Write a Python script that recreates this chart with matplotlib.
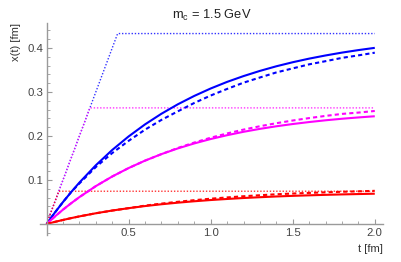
import matplotlib
matplotlib.use('Agg')
import matplotlib.pyplot as plt
from matplotlib.ticker import MultipleLocator, FixedLocator

plt.rcParams['font.family'] = ['Liberation Sans', 'DejaVu Sans']
plt.rcParams['mathtext.fontset'] = 'custom'
plt.rcParams['mathtext.rm'] = 'Liberation Sans'

# time grid [fm]
t = [0, 0.05, 0.1, 0.15, 0.2, 0.3, 0.4, 0.5, 0.6, 0.7, 0.8, 0.9, 1.0,
     1.1, 1.2, 1.3, 1.4, 1.5, 1.6, 1.7, 1.8, 1.9, 2.0]

# blue
blue_solid = [0, 0.0257, 0.0499, 0.0727, 0.0942, 0.1335, 0.1683, 0.1991, 0.2265,
              0.2507, 0.2722, 0.2912, 0.3081, 0.3231, 0.3363, 0.3481, 0.3586,
              0.3678, 0.3760, 0.3832, 0.3897, 0.3954, 0.4005]
blue_dashed = [0, 0.0257, 0.0499, 0.0726, 0.0922, 0.1295, 0.1613, 0.1891, 0.2145,
               0.2367, 0.2562, 0.2752, 0.2921, 0.3071, 0.3213, 0.3331, 0.3446,
               0.3538, 0.3630, 0.3702, 0.3777, 0.3834, 0.3895]
blue_dot_t = [0, 0.433, 2.0]
blue_dot_x = [0, 0.433, 0.433]

# magenta
mag_solid = [0, 0.0168, 0.0326, 0.0473, 0.0611, 0.0861, 0.1080, 0.1272, 0.1441,
             0.1589, 0.1719, 0.1832, 0.1932, 0.2019, 0.2096, 0.2163, 0.2222,
             0.2273, 0.2318, 0.2358, 0.2393, 0.2423, 0.2450]
mag_dashed = [0, 0.0168, 0.0326, 0.0473, 0.0611, 0.0861, 0.1080, 0.1272, 0.1441,
              0.1589, 0.1729, 0.1852, 0.1962, 0.2059, 0.2146, 0.2223, 0.2292,
              0.2353, 0.2408, 0.2458, 0.2503, 0.2533, 0.2570]
mag_dot_t = [0, 0.264, 2.0]
mag_dot_x = [0, 0.264, 0.264]

# red
red_solid = [0, 0.0048, 0.0092, 0.0134, 0.0173, 0.0244, 0.0306, 0.0360, 0.0408,
             0.0449, 0.0485, 0.0517, 0.0545, 0.0569, 0.0591, 0.0609, 0.0626,
             0.0640, 0.0652, 0.0663, 0.0673, 0.0681, 0.0689]
red_dashed = [0, 0.0048, 0.0092, 0.0134, 0.0173, 0.0244, 0.0306, 0.0360, 0.0418,
              0.0464, 0.0505, 0.0542, 0.0575, 0.0604, 0.0631, 0.0654, 0.0676,
              0.0693, 0.0707, 0.0720, 0.0733, 0.0743, 0.0754]
red_dot_t = [0, 0.0745, 2.0]
red_dot_x = [0, 0.0745, 0.0745]

fig = plt.figure(figsize=(4.02, 2.62), dpi=100)
ax = fig.add_axes([40/402, 1-235/262, 343/402, 212/262])

dot = (0, (1.0, 1.3))
dash = (0, (2.0, 1.5))
for c, ts, xs in [('blue', blue_dot_t, blue_dot_x), ('magenta', mag_dot_t, mag_dot_x),
                  ('red', red_dot_t, red_dot_x)]:
    ax.plot(ts, xs, color=c, lw=1.0, alpha=0.8, linestyle=dot, dash_capstyle='butt')
for c, s, d in [('blue', blue_solid, blue_dashed), ('magenta', mag_solid, mag_dashed),
                ('red', red_solid, red_dashed)]:
    ax.plot(t, s, color=c, lw=1.5, solid_capstyle='butt')
    ax.plot(t, d, color=c, lw=1.5, linestyle=dash, dash_capstyle='butt')

ax.set_xlim(-0.04, 2.05)
ax.set_ylim(-0.025, 0.457)

for side in ['top', 'right']:
    ax.spines[side].set_visible(False)
ax.spines['left'].set_position(('data', 0))
ax.spines['bottom'].set_position(('data', 0))
for side in ['left', 'bottom']:
    ax.spines[side].set_color('#9a9a9a')
    ax.spines[side].set_linewidth(1.0)

ax.xaxis.set_major_locator(FixedLocator([0.5, 1.0, 1.5, 2.0]))
ax.xaxis.set_minor_locator(MultipleLocator(0.1))
ax.yaxis.set_major_locator(FixedLocator([0.1, 0.2, 0.3, 0.4]))
ax.yaxis.set_minor_locator(MultipleLocator(0.02))
ax.set_xticklabels(['0.5', '1.0', '1.5', '2.0'])
ax.set_yticklabels(['0.1', '0.2', '0.3', '0.4'])
ax.tick_params(which='both', direction='in', color='#9a9a9a', labelcolor='#444444',
               labelsize=8.2)
ax.tick_params(which='major', length=3.5, width=0.8)
ax.tick_params(which='minor', length=2, width=0.6)
ax.tick_params(axis='x', pad=3)
ax.tick_params(axis='y', pad=2)

fig.text(212/402, 1-15/262, r'm$_{\rm c}$ = 1.5 GeV', ha='center', va='center',
         fontsize=9.3, color='#222222')
fig.text(16/402, 1-42/262, 'x(t) [fm]', rotation=90, ha='center', va='center',
         fontsize=8, color='#333333')
fig.text(370/402, 1-249/262, 't [fm]', ha='center', va='center',
         fontsize=8, color='#333333')

fig.savefig('out.png', dpi=100)
